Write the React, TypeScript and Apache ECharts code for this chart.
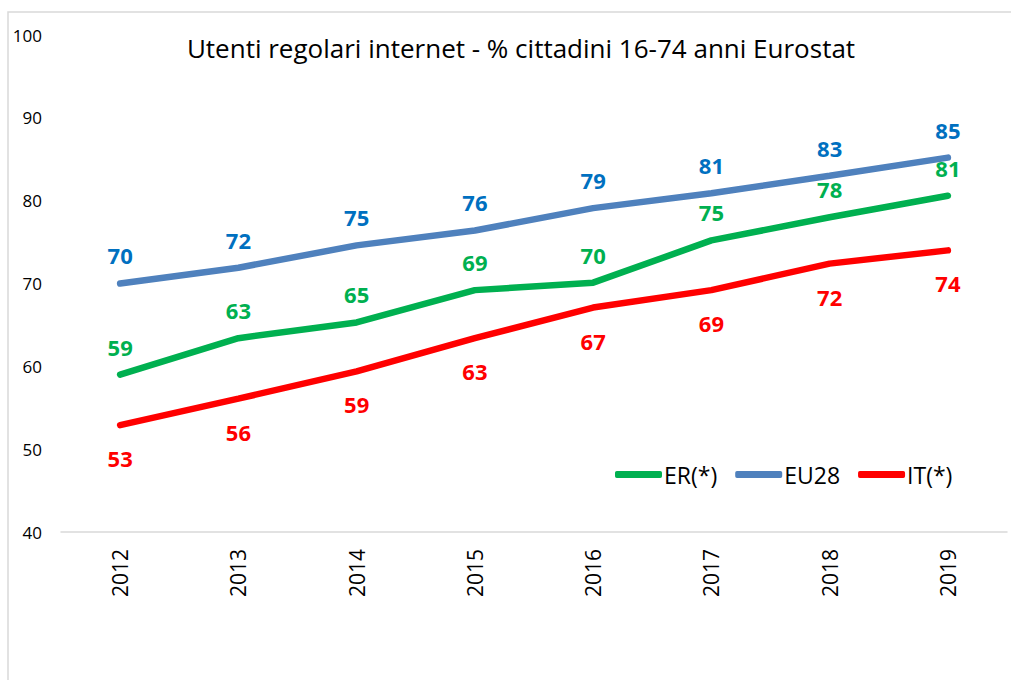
import React, { useEffect, useRef } from "react";
import * as echarts from "echarts";

const years = ["2012", "2013", "2014", "2015", "2016", "2017", "2018", "2019"];
const erValues = [59.0, 63.4, 65.3, 69.2, 70.1, 75.2, 78.0, 80.6];
const eu28Values = [70.0, 71.9, 74.6, 76.4, 79.1, 80.9, 83.0, 85.2];
const itValues = [52.9, 56.1, 59.4, 63.4, 67.1, 69.2, 72.4, 74.0];
const yTicks = [40, 50, 60, 70, 80, 90, 100];

const FONT = "'Open Sans', 'Noto Sans', sans-serif";
const GREEN = "#00B050";
const BLUE_LINE = "#4F81BD";
const BLUE_LABEL = "#0070C0";
const RED = "#FF0000";

export default function App() {
  const ref = useRef<HTMLDivElement>(null);
  useEffect(() => {
    if (!ref.current) return;
    const chart = echarts.init(ref.current, null, { renderer: "svg" });
    const mkSeries = (name: string, data: number[], lineColor: string, labelColor: string, pos: string, dist: number) => ({
      name,
      type: "line",
      data,
      symbol: "circle",
      symbolSize: 0.1,
      itemStyle: { color: lineColor },
      lineStyle: { color: lineColor, width: 6.5, cap: "round" },
      label: {
        show: true,
        position: pos,
        distance: dist,
        color: labelColor,
        fontSize: 22,
        fontWeight: "bold",
        fontFamily: FONT,
        formatter: (p: any) => String(Math.round(p.value)),
      },
      emphasis: { disabled: true },
    });
    chart.setOption({
      animation: false,
      title: {
        text: "Utenti regolari internet - % cittadini 16-74 anni Eurostat",
        left: 516,
        textAlign: "center",
        top: 30,
        textStyle: { fontFamily: FONT, fontSize: 26, fontWeight: "normal", color: "#000" },
      },
      graphic: [
        {
          type: "rect",
          shape: { x: 8, y: 12, width: 1020, height: 700 },
          style: { fill: "none", stroke: "#d9d9d9", lineWidth: 1.5 },
          silent: true,
        },
      ],
      legend: {
        data: [
          { name: "ER(*)", itemStyle: { color: GREEN } },
          { name: "EU28", itemStyle: { color: BLUE_LINE } },
          { name: "IT(*)", itemStyle: { color: RED } },
        ],
        left: 610,
        top: 458,
        itemWidth: 47,
        itemHeight: 7,
        itemGap: 18,
        icon: "roundRect",
        textStyle: { fontFamily: FONT, fontSize: 23, color: "#000", padding: [0, 0, 0, -3] },
      },
      grid: { left: 61, right: 4, top: 35, bottom: 148 },
      xAxis: {
        type: "category",
        data: years,
        boundaryGap: true,
        axisLine: { lineStyle: { color: "#d9d9d9", width: 1.5 } },
        axisTick: { show: false },
        axisLabel: { rotate: 90, margin: 17, fontSize: 21, color: "#000", fontFamily: FONT },
      },
      yAxis: {
        type: "value",
        min: yTicks[0],
        max: yTicks[yTicks.length - 1],
        interval: 10,
        splitLine: { show: false },
        axisLine: { show: false },
        axisTick: { show: false },
        axisLabel: { margin: 19, fontSize: 17, color: "#000", fontFamily: FONT },
      },
      series: [
        mkSeries("ER(*)", erValues, GREEN, GREEN, "top", 17),
        mkSeries("EU28", eu28Values, BLUE_LINE, BLUE_LABEL, "top", 17),
        mkSeries("IT(*)", itValues, RED, RED, "bottom", 22),
      ],
    });
    return () => chart.dispose();
  }, []);
  return (
    <div
      ref={ref}
      style={{ position: "absolute", left: 0, top: 0, width: 1011, height: 680, background: "#fff" }}
    />
  );
}
